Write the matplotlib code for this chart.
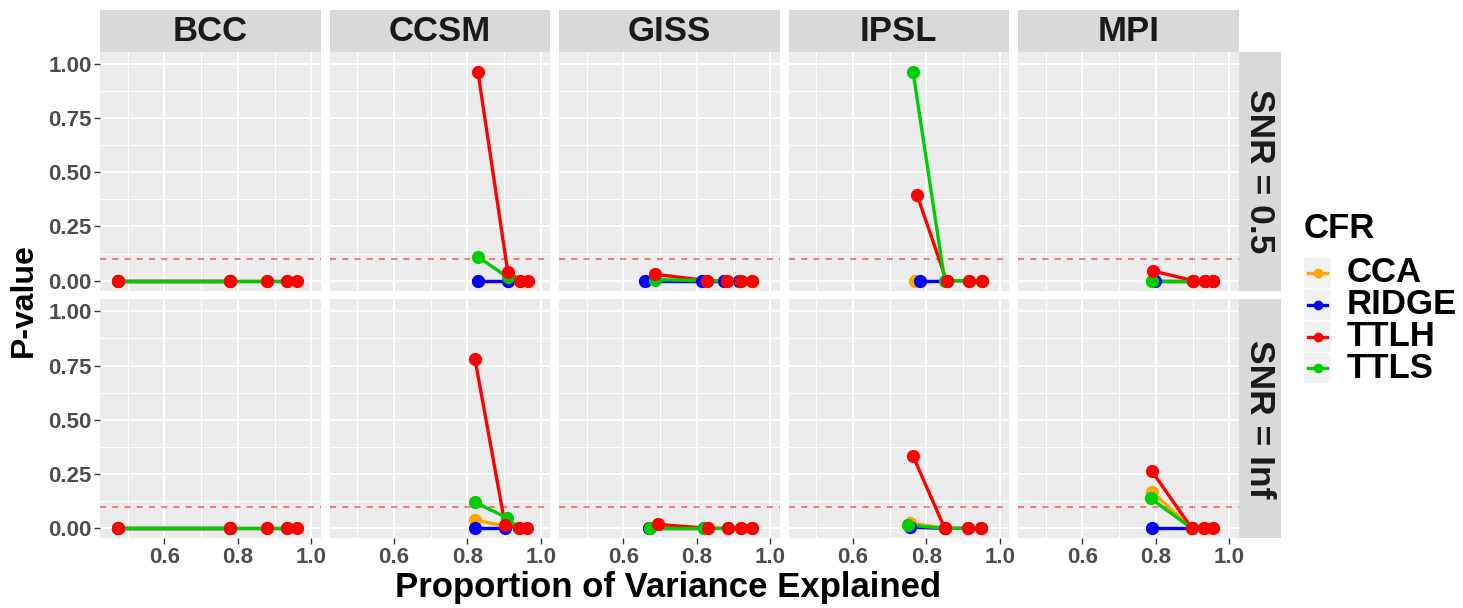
import matplotlib
matplotlib.use('Agg')
import matplotlib.pyplot as plt
from matplotlib.lines import Line2D

# ================
# Data
# ================

models = ['BCC', 'CCSM', 'GISS', 'IPSL', 'MPI']
snr_labels = ['SNR = 0.5', 'SNR = Inf']
cfrs = ['CCA', 'RIDGE', 'TTLH', 'TTLS']
cfr_colors = {'CCA': '#FFA500', 'RIDGE': '#0000FF', 'TTLH': '#FF0000', 'TTLS': '#00CD00'}

# proportion of variance explained (x) and p-value (y), one list per model
cca_x_05 = [[0.475, 0.779], [0.829, 0.910], [0.659, 0.815, 0.874, 0.915], [0.769, 0.855], [0.790, 0.902]]
cca_y_05 = [[0, 0], [0, 0], [0, 0, 0, 0], [0, 0], [0, 0]]
ridge_x_05 = [[0.475, 0.779], [0.829, 0.910], [0.659, 0.815, 0.874, 0.915], [0.782, 0.855], [0.798, 0.902, 0.934, 0.957]]
ridge_y_05 = [[0, 0], [0, 0], [0, 0, 0, 0], [0, 0], [0, 0, 0, 0]]
ttlh_x_05 = [[0.475, 0.779, 0.879, 0.933, 0.960], [0.829, 0.910, 0.944, 0.965],
             [0.686, 0.829, 0.883, 0.919, 0.950], [0.775, 0.855, 0.917, 0.952], [0.793, 0.902, 0.934, 0.955]]
ttlh_y_05 = [[0, 0, 0, 0, 0], [0.962, 0.042, 0, 0], [0.03, 0, 0, 0, 0], [0.395, 0, 0, 0], [0.045, 0, 0, 0]]
ttls_x_05 = [[0.475, 0.779, 0.879, 0.933], [0.829, 0.910, 0.944],
             [0.686, 0.829, 0.883, 0.919, 0.950], [0.764, 0.850, 0.917, 0.952], [0.789, 0.902]]
ttls_y_05 = [[0, 0, 0, 0], [0.111, 0.015, 0], [0.005, 0, 0, 0, 0], [0.962, 0, 0, 0], [0, 0]]

cca_x_inf = [[0.475, 0.779], [0.821, 0.903], [0.670, 0.820], [0.755, 0.850], [0.789, 0.898]]
cca_y_inf = [[0, 0], [0.038, 0.01], [0, 0], [0.025, 0], [0.169, 0]]
ridge_x_inf = [[0.475, 0.779], [0.821, 0.903], [0.670, 0.820], [0.755, 0.850], [0.789, 0.898]]
ridge_y_inf = [[0, 0], [0, 0], [0, 0], [0.005, 0], [0, 0]]
ttlh_x_inf = [[0.475, 0.779, 0.879, 0.933, 0.960], [0.821, 0.903, 0.940, 0.963],
              [0.694, 0.831, 0.885, 0.919, 0.950], [0.764, 0.850, 0.914, 0.948], [0.789, 0.898, 0.932, 0.955]]
ttlh_y_inf = [[0, 0, 0, 0, 0], [0.779, 0.015, 0, 0], [0.018, 0, 0, 0, 0], [0.333, 0, 0, 0], [0.264, 0, 0, 0]]
ttls_x_inf = [[0.475, 0.779, 0.879, 0.933], [0.821, 0.907, 0.940],
              [0.674, 0.820, 0.885, 0.919, 0.950], [0.751, 0.850, 0.914, 0.948], [0.786, 0.898, 0.932]]
ttls_y_inf = [[0, 0, 0, 0], [0.12, 0.049, 0], [0, 0, 0, 0, 0], [0.015, 0, 0, 0], [0.138, 0, 0]]

series = [
    {'CCA': (cca_x_05, cca_y_05), 'RIDGE': (ridge_x_05, ridge_y_05),
     'TTLH': (ttlh_x_05, ttlh_y_05), 'TTLS': (ttls_x_05, ttls_y_05)},
    {'CCA': (cca_x_inf, cca_y_inf), 'RIDGE': (ridge_x_inf, ridge_y_inf),
     'TTLH': (ttlh_x_inf, ttlh_y_inf), 'TTLS': (ttls_x_inf, ttls_y_inf)},
]
threshold = 0.1

# ================
# Layout (pixels)
# ================

plt.rcParams['font.family'] = ['Liberation Sans', 'DejaVu Sans']
plt.rcParams['font.weight'] = 'bold'

W, H = 1463, 608
fig = plt.figure(figsize=(W / 100, H / 100), dpi=100)


def box(x0, y0, x1, y1):
    return [x0 / W, 1 - y1 / H, (x1 - x0) / W, (y1 - y0) / H]


col_left = 100
col_w = 220.7
col_step = 229.5
row_tops = [51.7, 299.3]
row_h = 239.0
strip_top = 9.7
strip_right_w = 42

point_order = ['CCA', 'RIDGE', 'TTLS', 'TTLH']

for r in range(2):
    y0 = row_tops[r]
    y1 = y0 + row_h
    for c, model in enumerate(models):
        x0 = col_left + c * col_step
        x1 = x0 + col_w
        ax = fig.add_axes(box(x0, y0, x1, y1))
        ax.set_facecolor('#EBEBEB')
        for s in ax.spines.values():
            s.set_visible(False)
        ax.set_xlim(0.425, 1.0256)
        ax.set_ylim(-0.046, 1.055)
        ax.set_xticks([0.6, 0.8, 1.0])
        ax.set_xticks([0.5, 0.7, 0.9], minor=True)
        ax.set_yticks([0, 0.25, 0.5, 0.75, 1.0])
        ax.set_yticks([0.125, 0.375, 0.625, 0.875], minor=True)
        ax.grid(which='major', color='white', lw=1.5)
        ax.grid(which='minor', color='white', lw=0.75)
        ax.set_axisbelow(True)
        ax.set_xticklabels(['0.6', '0.8', '1.0'])
        ax.set_yticklabels(['0.00', '0.25', '0.50', '0.75', '1.00'])
        ax.tick_params(which='minor', length=0)
        ax.tick_params(which='major', length=4, width=1, color='#333333',
                       labelsize=16, labelcolor='#4D4D4D', pad=2)
        if r == 0:
            ax.tick_params(axis='x', which='major', length=0, labelbottom=False)
        if c > 0:
            ax.tick_params(axis='y', which='major', length=0, labelleft=False)

        ax.axhline(threshold, color='#FF3030', lw=1.1, ls=(0, (4, 4)), alpha=0.8, zorder=1)

        data = series[r]
        for cfr in cfrs:
            xs, ys = data[cfr]
            ax.plot(xs[c], ys[c], color=cfr_colors[cfr], lw=2.4, zorder=2,
                    solid_capstyle='round')
        for cfr in point_order:
            xs, ys = data[cfr]
            ax.plot(xs[c], ys[c], ls='none', marker='o', ms=8.5,
                    color=cfr_colors[cfr], zorder=3)

        if r == 0:
            sax = fig.add_axes(box(x0, strip_top, x1, row_tops[0]))
            sax.set_facecolor('#D9D9D9')
            sax.set_xticks([])
            sax.set_yticks([])
            for s in sax.spines.values():
                s.set_visible(False)
            sax.text(0.5, 0.47, model, ha='center', va='center', fontsize=25,
                     color='#1A1A1A', transform=sax.transAxes)

    xr0 = col_left + 4 * col_step + col_w
    rax = fig.add_axes(box(xr0, y0, xr0 + strip_right_w, y1))
    rax.set_facecolor('#D9D9D9')
    rax.set_xticks([])
    rax.set_yticks([])
    for s in rax.spines.values():
        s.set_visible(False)
    rax.text(0.5, 0.5, snr_labels[r], ha='center', va='center', rotation=270,
             fontsize=25.5, color='#1A1A1A', transform=rax.transAxes)

# axis titles
fig.text(668 / W, 1 - 588 / H, 'Proportion of Variance Explained', ha='center',
         va='center', fontsize=25)
fig.text(24 / W, 1 - 300 / H, 'P-value', ha='center', va='center',
         rotation=90, fontsize=23)

# legend
fig.text(1304 / W, 1 - 229 / H, 'CFR', ha='left', va='center', fontsize=25)
legend_y = [273, 305, 337, 368]
for cfr, ly in zip(cfrs, legend_y):
    key = fig.add_axes(box(1304, ly - 15, 1331, ly + 15))
    key.set_facecolor('#F2F2F2')
    key.set_xticks([])
    key.set_yticks([])
    for s in key.spines.values():
        s.set_visible(False)
    key.add_line(Line2D([0.15, 0.85], [0.5, 0.5], color=cfr_colors[cfr], lw=2.4,
                        marker=None, transform=key.transAxes))
    key.plot([0.5], [0.5], marker='o', ms=6, color=cfr_colors[cfr],
             transform=key.transAxes)
    fig.text(1347 / W, 1 - ly / H, cfr, ha='left', va='center', fontsize=25)

fig.savefig('out.png', dpi=100)
